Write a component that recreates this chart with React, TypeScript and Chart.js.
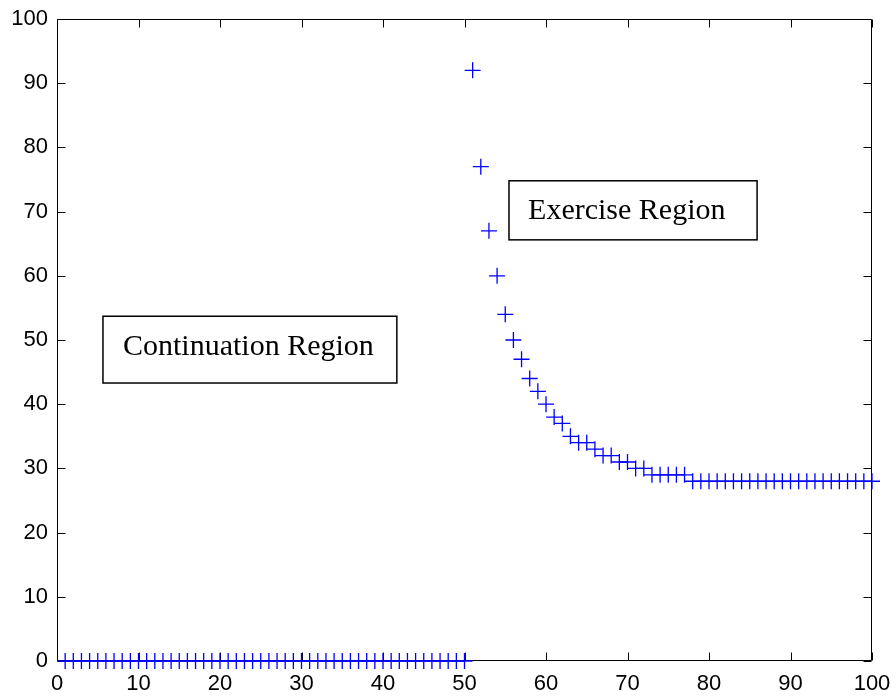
import { useEffect, useRef } from "react";
import { Chart, registerables } from "chart.js";

Chart.register(...registerables);

// Time step (horizontal) and the exercise boundary value at each step.
const steps = [
  1, 2, 3, 4, 5, 6, 7, 8, 9, 10,
  11, 12, 13, 14, 15, 16, 17, 18, 19, 20,
  21, 22, 23, 24, 25, 26, 27, 28, 29, 30,
  31, 32, 33, 34, 35, 36, 37, 38, 39, 40,
  41, 42, 43, 44, 45, 46, 47, 48, 49, 50,
  51, 52, 53, 54, 55, 56, 57, 58, 59, 60,
  61, 62, 63, 64, 65, 66, 67, 68, 69, 70,
  71, 72, 73, 74, 75, 76, 77, 78, 79, 80,
  81, 82, 83, 84, 85, 86, 87, 88, 89, 90,
  91, 92, 93, 94, 95, 96, 97, 98, 99, 100,
];

const boundary = [
  0, 0, 0, 0, 0, 0, 0, 0, 0, 0,
  0, 0, 0, 0, 0, 0, 0, 0, 0, 0,
  0, 0, 0, 0, 0, 0, 0, 0, 0, 0,
  0, 0, 0, 0, 0, 0, 0, 0, 0, 0,
  0, 0, 0, 0, 0, 0, 0, 0, 0, 0,
  92, 77, 67, 60, 54, 50, 47, 44, 42, 40,
  38, 37, 35, 34, 34, 33, 32, 32, 31, 31,
  30, 30, 29, 29, 29, 29, 29, 28, 28, 28,
  28, 28, 28, 28, 28, 28, 28, 28, 28, 28,
  28, 28, 28, 28, 28, 28, 28, 28, 28, 28,
];

const xTicks = [0, 10, 20, 30, 40, 50, 60, 70, 80, 90, 100];
const yTicks = [0, 10, 20, 30, 40, 50, 60, 70, 80, 90, 100];

// Region labels, placed in data coordinates (box corners and text anchor).
const regionLabels = [
  { text: "Continuation Region", x0: 5.64, x1: 41.7, y0: 43.3, y1: 53.7, tx: 8.1, ty: 47.7 },
  { text: "Exercise Region", x0: 55.46, x1: 85.9, y0: 65.6, y1: 74.8, tx: 57.8, ty: 68.8 },
];

const TICK_FONT = { family: "'Liberation Sans', Arial, Helvetica, sans-serif", size: 22 };
const LABEL_FONT = "30px 'Liberation Serif', 'Times New Roman', serif";
const TICK_LEN = 8;

const framePlugin = {
  id: "matlabFrame",
  beforeDatasetsDraw(chart: any) {
    const { ctx, chartArea, scales } = chart;
    const xs = scales.x;
    const ys = scales.y;
    const l = Math.round(chartArea.left) + 0.5;
    const r = Math.round(chartArea.right) - 0.5;
    const t = Math.round(chartArea.top) + 0.5;
    const b = Math.round(chartArea.bottom) - 0.5;
    ctx.save();
    ctx.strokeStyle = "#000";
    ctx.lineWidth = 1;
    ctx.beginPath();
    ctx.rect(l, t, r - l, b - t);
    for (const v of xTicks) {
      const px = Math.round(xs.getPixelForValue(v)) + 0.5;
      ctx.moveTo(px, b);
      ctx.lineTo(px, b - TICK_LEN);
      ctx.moveTo(px, t);
      ctx.lineTo(px, t + TICK_LEN);
    }
    for (const v of yTicks) {
      const py = Math.round(ys.getPixelForValue(v)) + 0.5;
      ctx.moveTo(l, py);
      ctx.lineTo(l + TICK_LEN, py);
      ctx.moveTo(r, py);
      ctx.lineTo(r - TICK_LEN, py);
    }
    ctx.stroke();
    ctx.restore();
  },
  afterDatasetsDraw(chart: any) {
    const { ctx, scales } = chart;
    const xs = scales.x;
    const ys = scales.y;
    ctx.save();
    for (const lab of regionLabels) {
      const bx0 = xs.getPixelForValue(lab.x0);
      const bx1 = xs.getPixelForValue(lab.x1);
      const by0 = ys.getPixelForValue(lab.y1);
      const by1 = ys.getPixelForValue(lab.y0);
      ctx.fillStyle = "#fff";
      ctx.fillRect(bx0, by0, bx1 - bx0, by1 - by0);
      ctx.strokeStyle = "#000";
      ctx.lineWidth = 1.5;
      ctx.strokeRect(bx0, by0, bx1 - bx0, by1 - by0);
      ctx.fillStyle = "#000";
      ctx.font = LABEL_FONT;
      ctx.textAlign = "left";
      ctx.textBaseline = "alphabetic";
      ctx.fillText(lab.text, xs.getPixelForValue(lab.tx), ys.getPixelForValue(lab.ty));
    }
    ctx.restore();
  },
};

export default function App() {
  const canvasRef = useRef<HTMLCanvasElement | null>(null);

  useEffect(() => {
    const canvas = canvasRef.current;
    if (!canvas) return;
    const chart = new Chart(canvas, {
      type: "scatter",
      data: {
        datasets: [
          {
            data: steps.map((s, i) => ({ x: s, y: boundary[i] })),
            pointStyle: "cross",
            pointRadius: 8,
            pointHoverRadius: 8,
            pointBorderWidth: 1.3,
            borderColor: "#0000ff",
            backgroundColor: "#0000ff",
            showLine: false,
            clip: false,
          } as any,
        ],
      },
      options: {
        animation: false,
        responsive: false,
        devicePixelRatio: 1,
        events: [],
        layout: { padding: { left: 0, right: 24, top: 19, bottom: 0 } },
        plugins: {
          legend: { display: false },
          tooltip: { enabled: false },
        },
        scales: {
          x: {
            type: "linear",
            min: 0,
            max: 100,
            grid: { display: false, drawTicks: false },
            border: { display: false },
            afterBuildTicks: (scale: any) => {
              scale.ticks = xTicks.map((v) => ({ value: v }));
            },
            afterFit: (scale: any) => {
              scale.height = 35;
              scale.paddingLeft = 0;
              scale.paddingRight = 0;
            },
            ticks: {
              color: "#000",
              font: TICK_FONT,
              padding: 10,
              maxRotation: 0,
              autoSkip: false,
            },
          },
          y: {
            type: "linear",
            min: 0,
            max: 100,
            grid: { display: false, drawTicks: false },
            border: { display: false },
            afterBuildTicks: (scale: any) => {
              scale.ticks = yTicks.map((v) => ({ value: v }));
            },
            afterFit: (scale: any) => {
              scale.width = 57;
              scale.paddingTop = 0;
              scale.paddingBottom = 0;
            },
            ticks: {
              color: "#000",
              font: TICK_FONT,
              padding: 9,
              autoSkip: false,
            },
          },
        },
      },
      plugins: [framePlugin],
    });
    return () => chart.destroy();
  }, []);

  return (
    <div style={{ position: "fixed", left: 0, top: 0, width: 896, height: 696, background: "#fff" }}>
      <canvas ref={canvasRef} width={896} height={696} style={{ display: "block", width: 896, height: 696 }} />
    </div>
  );
}
